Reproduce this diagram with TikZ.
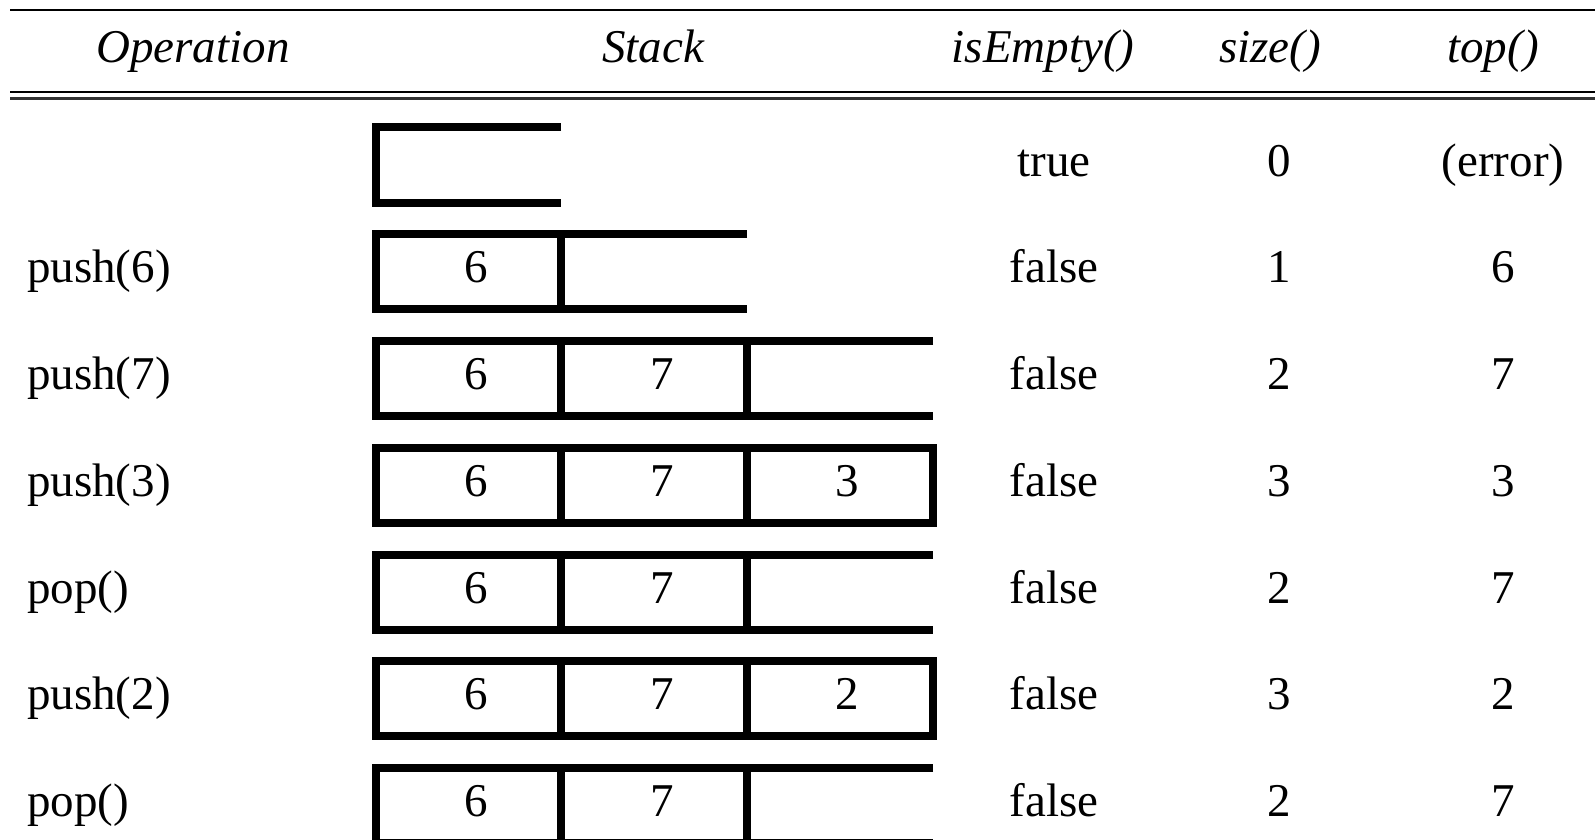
\documentclass[tikz,border=0pt]{standalone}
\usepackage{fontspec}
\setmainfont{Liberation Serif}
\begin{document}
\begin{tikzpicture}[x=1pt,y=-1pt,
  txt/.style={font=\fontsize{47}{56}\selectfont, inner sep=0pt, anchor=base},
  hdr/.style={font=\fontsize{47}{56}\selectfont\itshape, inner sep=0pt, anchor=base},
  opname/.style={txt, anchor=base west},
  wall/.style={line width=8pt, line join=miter, line cap=butt},
  rulethin/.style={line width=1.5pt},
  rulethick/.style={line width=2.2pt, black!80}]
\useasboundingbox (0,0) rectangle (1595,840);
% rules
\coordinate (r1a) at (10,10);   \coordinate (r1b) at (1595,10);
\coordinate (r2a) at (10,92);   \coordinate (r2b) at (1595,92);
\coordinate (r3a) at (10,98.5); \coordinate (r3b) at (1595,98.5);
\draw[rulethin] (r1a) -- (r1b);
\draw[rulethin] (r2a) -- (r2b);
\draw[rulethick] (r3a) -- (r3b);
% header
\node[hdr] (hOp) at (193,63) {Operation};
\node[hdr] (hSt) at (653,63) {Stack};
\node[hdr] (hEm) at (1043,63) {isEmpty()};
\node[hdr] (hSz) at (1270,63) {size()};
\node[hdr] (hTp) at (1493,63) {top()};
% body values
\foreach \r/\op/\emp/\sz/\tp in {1//true/0/(error), 2/push(6)/false/1/6, 3/push(7)/false/2/7, 4/push(3)/false/3/3, 5/pop()/false/2/7, 6/push(2)/false/3/2, 7/pop()/false/2/7}{
  \pgfmathsetmacro{\bl}{165+106.75*(\r-1)+11}
  \node[opname] (op\r) at (27,\bl) {\op};
  \node[txt] (em\r) at (1054,\bl) {\emp};
  \node[txt] (sz\r) at (1279,\bl) {\sz};
  \node[txt] (tp\r) at (1503,\bl) {\tp};
}
% stacks
% row 1: empty bracket
\draw[wall] (561,127.5) -- (375.5,127.5) -- (375.5,202.5) -- (561,202.5);
% row 2
\draw[wall] (747,234.25) -- (375.5,234.25) -- (375.5,309.25) -- (747,309.25);
\draw[wall] (561,234.25) -- (561,309.25);
\node[txt] (c2a) at (476,282.75) {6};
% row 3
\draw[wall] (933,341) -- (375.5,341) -- (375.5,416) -- (933,416);
\draw[wall] (561,341) -- (561,416);
\draw[wall] (747,341) -- (747,416);
\node[txt] (c3a) at (476,389.5) {6};
\node[txt] (c3b) at (662,389.5) {7};
% row 4
\draw[wall] (375.5,447.75) rectangle (932.5,522.75);
\draw[wall] (561,447.75) -- (561,522.75);
\draw[wall] (747,447.75) -- (747,522.75);
\node[txt] (c4a) at (476,496.25) {6};
\node[txt] (c4b) at (662,496.25) {7};
\node[txt] (c4c) at (847,496.25) {3};
% row 5
\draw[wall] (933,554.5) -- (375.5,554.5) -- (375.5,629.5) -- (933,629.5);
\draw[wall] (561,554.5) -- (561,629.5);
\draw[wall] (747,554.5) -- (747,629.5);
\node[txt] (c5a) at (476,603) {6};
\node[txt] (c5b) at (662,603) {7};
% row 6
\draw[wall] (375.5,661.25) rectangle (932.5,736.25);
\draw[wall] (561,661.25) -- (561,736.25);
\draw[wall] (747,661.25) -- (747,736.25);
\node[txt] (c6a) at (476,709.75) {6};
\node[txt] (c6b) at (662,709.75) {7};
\node[txt] (c6c) at (847,709.75) {2};
% row 7
\draw[wall] (933,768) -- (375.5,768) -- (375.5,843) -- (933,843);
\draw[wall] (561,768) -- (561,843);
\draw[wall] (747,768) -- (747,843);
\node[txt] (c7a) at (476,816.5) {6};
\node[txt] (c7b) at (662,816.5) {7};
\end{tikzpicture}
\end{document}
